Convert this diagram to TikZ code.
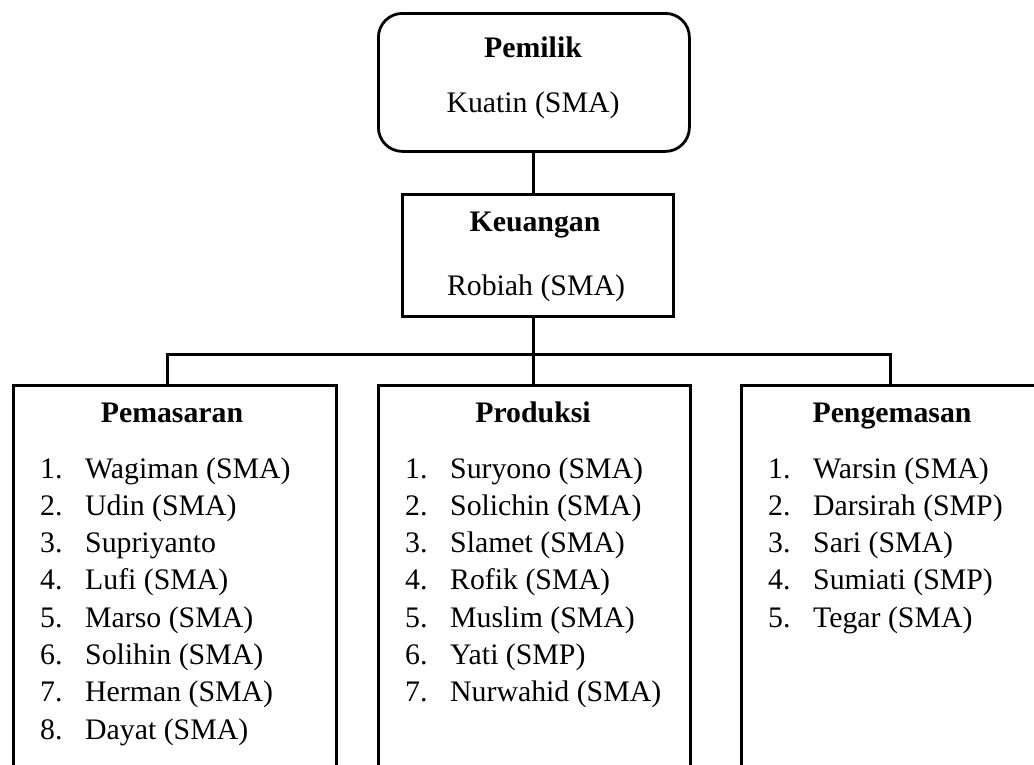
\documentclass[tikz,border=0pt]{standalone}
\usepackage{fontspec}
\setmainfont{Liberation Serif}
\begin{document}
\begin{tikzpicture}[x=1pt,y=-1pt,
  box/.style={draw=black, line width=2.8pt, inner sep=0pt, fill=none},
  conn/.style={draw=black, line width=3pt},
  txt/.style={inner sep=0pt, anchor=base, font=\fontsize{29.8}{37.3}\selectfont},
  head/.style={txt, font=\fontsize{29.8}{37.3}\selectfont\bfseries},
  item/.style={inner sep=0pt, anchor=base west, font=\fontsize{29.8}{37.3}\selectfont}]
\useasboundingbox (0,0) rectangle (1034,764);
\clip (0,0) rectangle (1034,764);
% boxes
\node[box, rounded corners=24pt, anchor=north west, minimum width=311pt, minimum height=138pt] (own) at (377,12) {};
\node[box, anchor=north west, minimum width=271pt, minimum height=122pt] (fin) at (401,193) {};
\node[box, anchor=north west, minimum width=323pt, minimum height=460pt] (mkt) at (12,384) {};
\node[box, anchor=north west, minimum width=312pt, minimum height=460pt] (prd) at (377,384) {};
\node[box, anchor=north west, minimum width=360pt, minimum height=460pt] (pkg) at (740,384) {};
% texts
\node[head] (ownh) at (533,57) {Pemilik};
\node[txt] (ownn) at (533,112) {Kuatin (SMA)};
\node[head] (finh) at (535,231) {Keuangan};
\node[txt] (finn) at (536,295) {Robiah (SMA)};
\node[head] (mkth) at (172,422) {Pemasaran};
\node[head] (prdh) at (533,422) {Produksi};
\node[head] (pkgh) at (892,422) {Pengemasan};
\foreach \t [count=\i] in {Wagiman (SMA),Udin (SMA),Supriyanto,Lufi (SMA),Marso (SMA),Solihin (SMA),Herman (SMA),Dayat (SMA)}
  \node[item] (mkt\i) at (40,{478+37.3*(\i-1)}) {\makebox[45pt][l]{\i.}\t};
\foreach \t [count=\i] in {Suryono (SMA),Solichin (SMA),Slamet (SMA),Rofik (SMA),Muslim (SMA),Yati (SMP),Nurwahid (SMA)}
  \node[item] (prd\i) at (405,{478+37.3*(\i-1)}) {\makebox[45pt][l]{\i.}\t};
\foreach \t [count=\i] in {Warsin (SMA),Darsirah (SMP),Sari (SMA),Sumiati (SMP),Tegar (SMA)}
  \node[item] (pkg\i) at (768,{478+37.3*(\i-1)}) {\makebox[45pt][l]{\i.}\t};
% connectors
\coordinate (cx) at (533,0);
\coordinate (jl) at (167,354);
\coordinate (jr) at (890,354);
\draw[conn] (cx |- own.south) -- (cx |- fin.north);
\draw[conn] (cx |- fin.south) -- (cx |- prd.north);
\draw[conn, line join=miter] (jl |- mkt.north) -- (jl) -- (jr) -- (jr |- pkg.north);
\end{tikzpicture}
\end{document}
